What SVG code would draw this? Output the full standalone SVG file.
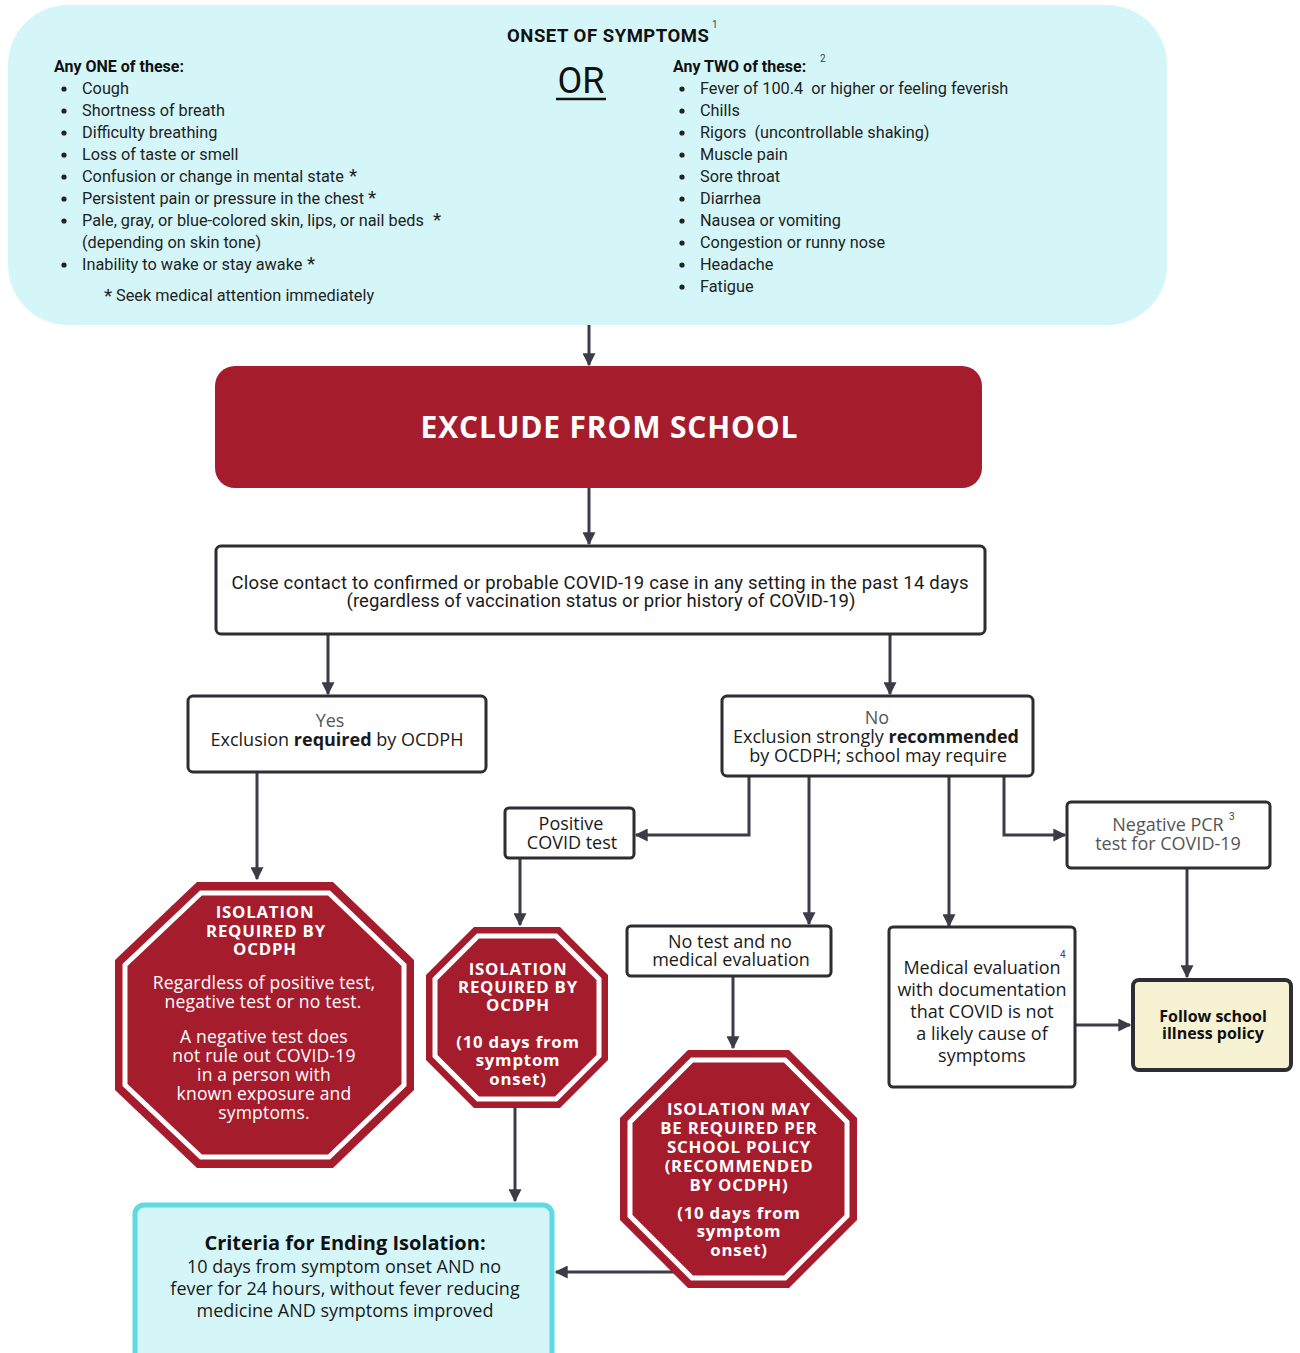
<svg xmlns="http://www.w3.org/2000/svg" width="1300" height="1353" viewBox="0 0 1300 1353">
<defs>
<style>
.top{font-family:Roboto,"Liberation Sans",sans-serif;font-size:16.3px;fill:#222}
.topb{font-family:Roboto,"Liberation Sans",sans-serif;font-size:16px;font-weight:bold;fill:#111}
.ast{font-family:Roboto,"Liberation Sans",sans-serif;font-size:19px;fill:#222}
.sup{font-family:Roboto,"Liberation Sans",sans-serif;font-size:10px;fill:#444}
.dot{fill:#222}
.box{fill:#fff;stroke:#2d2d33;stroke-width:3}
.t{font-family:"Open Sans","Liberation Sans",sans-serif;font-size:18px;fill:#1a1a1a;text-anchor:middle}
.tg{font-family:"Open Sans","Liberation Sans",sans-serif;font-size:18px;fill:#555;text-anchor:middle}
.oct{fill:#a51d2d}
.octin{fill:none;stroke:#fff;stroke-width:5}
.ob{font-family:"Open Sans","Liberation Sans",sans-serif;font-size:16.8px;font-weight:bold;fill:#fff;text-anchor:middle;letter-spacing:0.8px}
.on{font-family:"Open Sans","Liberation Sans",sans-serif;font-size:17.5px;fill:#fff;text-anchor:middle;letter-spacing:0.2px}
.conn{fill:none;stroke:#3c3c48;stroke-width:3;marker-end:url(#arr)}
</style>
<marker id="arr" markerUnits="userSpaceOnUse" viewBox="0 0 10 10" markerWidth="13" markerHeight="13" refX="9" refY="5" orient="auto">
<path d="M0,0 L10,5 L0,10 z" fill="#3c3c48"/>
</marker>
</defs>

<g id="connectors">
<path class="conn" d="M589,325 V365"/>
<path class="conn" d="M589,488 V544"/>
<path class="conn" d="M328,634 V694"/>
<path class="conn" d="M890,634 V694"/>
<path class="conn" d="M257,772 V879"/>
<path class="conn" d="M749,777 V835 H636"/>
<path class="conn" d="M809,777 V924"/>
<path class="conn" d="M949,777 V926"/>
<path class="conn" d="M1004,777 V835 H1065"/>
<path class="conn" d="M520,858 V925"/>
<path class="conn" d="M1187,868 V977"/>
<path class="conn" d="M1075,1025 H1130"/>
<path class="conn" d="M733,976 V1048"/>
<path class="conn" d="M515,1108 V1201"/>
<path class="conn" d="M676,1272 H556"/>
</g>

<g id="onset">
<rect x="8" y="5" width="1159" height="320" rx="60" fill="#d4f6f8"/>
<text x="608" y="42" text-anchor="middle" font-family="Roboto,'Liberation Sans',sans-serif" font-size="18.5" font-weight="bold" fill="#111" textLength="202">ONSET OF SYMPTOMS</text>
<text class="sup" x="712" y="28">1</text>
<text x="581" y="93" text-anchor="middle" font-family="Roboto,'Liberation Sans',sans-serif" font-size="36" fill="#111">OR</text>
<line x1="556" y1="99" x2="606" y2="99" stroke="#111" stroke-width="2.5"/>
<text class="topb" x="54" y="72">Any ONE of these:</text>
<g class="dot">
<circle cx="64" cy="89" r="2.6"/><circle cx="64" cy="111" r="2.6"/><circle cx="64" cy="133" r="2.6"/>
<circle cx="64" cy="155" r="2.6"/><circle cx="64" cy="177" r="2.6"/><circle cx="64" cy="199" r="2.6"/>
<circle cx="64" cy="221" r="2.6"/><circle cx="64" cy="265" r="2.6"/>
<circle cx="682" cy="89" r="2.6"/><circle cx="682" cy="111" r="2.6"/><circle cx="682" cy="133" r="2.6"/>
<circle cx="682" cy="155" r="2.6"/><circle cx="682" cy="177" r="2.6"/><circle cx="682" cy="199" r="2.6"/>
<circle cx="682" cy="221" r="2.6"/><circle cx="682" cy="243" r="2.6"/><circle cx="682" cy="265" r="2.6"/>
<circle cx="682" cy="287" r="2.6"/>
</g>
<g class="top">
<text x="82" y="94">Cough</text>
<text x="82" y="116">Shortness of breath</text>
<text x="82" y="138">Difficulty breathing</text>
<text x="82" y="160">Loss of taste or smell</text>
<text x="82" y="182">Confusion or change in mental state</text>
<text x="82" y="204">Persistent pain or pressure in the chest</text>
<text x="82" y="226">Pale, gray, or blue-colored skin, lips, or nail beds</text>
<text x="82" y="248">(depending on skin tone)</text>
<text x="82" y="270">Inability to wake or stay awake</text>
<text x="116" y="301">Seek medical attention immediately</text>
</g>
<text class="ast" x="349" y="182">*</text>
<text class="ast" x="368" y="204">*</text>
<text class="ast" x="433" y="226">*</text>
<text class="ast" x="307" y="270">*</text>
<text class="ast" x="104" y="302">*</text>
<text class="topb" x="673" y="72">Any TWO of these:</text>
<text class="sup" x="820" y="62">2</text>
<g class="top">
<text x="700" y="94" xml:space="preserve">Fever of 100.4  or higher or feeling feverish</text>
<text x="700" y="116">Chills</text>
<text x="700" y="138" xml:space="preserve">Rigors  (uncontrollable shaking)</text>
<text x="700" y="160">Muscle pain</text>
<text x="700" y="182">Sore throat</text>
<text x="700" y="204">Diarrhea</text>
<text x="700" y="226">Nausea or vomiting</text>
<text x="700" y="248">Congestion or runny nose</text>
<text x="700" y="270">Headache</text>
<text x="700" y="292">Fatigue</text>
</g>
</g>

<g id="exclude">
<rect x="215" y="366" width="767" height="122" rx="20" fill="#a51d2d"/>
<text x="609" y="438" text-anchor="middle" font-family="'Open Sans','Liberation Sans',sans-serif" font-size="30" font-weight="bold" fill="#fff" textLength="377">EXCLUDE FROM SCHOOL</text>
</g>

<g id="close-contact">
<rect class="box" x="216" y="546" width="769" height="88" rx="5"/>
<text x="600" y="589" text-anchor="middle" font-family="Roboto,'Liberation Sans',sans-serif" font-size="18.5" fill="#1a1a1a" textLength="737">Close contact to confirmed or probable COVID-19 case in any setting in the past 14 days</text>
<text x="601" y="607" text-anchor="middle" font-family="Roboto,'Liberation Sans',sans-serif" font-size="18.5" fill="#1a1a1a" textLength="509">(regardless of vaccination status or prior history of COVID-19)</text>
</g>

<g id="yes">
<rect class="box" x="188" y="696" width="298" height="76" rx="5"/>
<text class="tg" x="330" y="727">Yes</text>
<text class="t" x="337" y="746">Exclusion <tspan font-weight="bold">required</tspan> by OCDPH</text>
</g>

<g id="no">
<rect class="box" x="722" y="696" width="311" height="80" rx="5"/>
<text class="tg" x="877" y="724">No</text>
<text class="t" x="876" y="743">Exclusion strongly <tspan font-weight="bold">recommended</tspan></text>
<text class="t" x="878" y="762">by OCDPH; school may require</text>
</g>

<g id="positive">
<rect class="box" x="505" y="808" width="129" height="50" rx="4" stroke-width="2.5"/>
<text class="t" x="571" y="830">Positive</text>
<text class="t" x="572" y="849">COVID test</text>
</g>

<g id="negative-pcr">
<rect class="box" x="1067" y="802" width="203" height="66" rx="4" stroke-width="2.5"/>
<text class="tg" x="1168" y="831">Negative PCR</text>
<text class="sup" x="1229" y="820" font-size="11">3</text>
<text class="tg" x="1168" y="850">test for COVID-19</text>
</g>

<g id="no-test">
<rect class="box" x="627" y="926" width="204" height="50" rx="4" stroke-width="2.5"/>
<text class="t" x="730" y="948">No test and no</text>
<text class="t" x="731" y="966">medical evaluation</text>
</g>

<g id="medical-eval">
<rect class="box" x="889" y="927" width="186" height="160" rx="4" stroke-width="2.5"/>
<text class="sup" x="1060" y="958" font-size="11">4</text>
<text class="t" x="982" y="974">Medical evaluation</text>
<text class="t" x="982" y="996">with documentation</text>
<text class="t" x="982" y="1018">that COVID is not</text>
<text class="t" x="982" y="1040">a likely cause of</text>
<text class="t" x="982" y="1062">symptoms</text>
</g>

<g id="follow-policy">
<rect x="1133" y="980" width="158" height="90" rx="6" fill="#f6f2d2" stroke="#2d2d33" stroke-width="4"/>
<text x="1213" y="1022" text-anchor="middle" font-family="'Open Sans','Liberation Sans',sans-serif" font-size="16" font-weight="bold" fill="#111">Follow school</text>
<text x="1213" y="1039" text-anchor="middle" font-family="'Open Sans','Liberation Sans',sans-serif" font-size="16" font-weight="bold" fill="#111">illness policy</text>
</g>

<g id="isolation-required">
<polygon class="oct" points="197,882 333,882 414,960 414,1090 333,1168 197,1168 115,1090 115,960"/>
<polygon class="octin" points="201,893 329,893 404,965 404,1085 329,1157 201,1157 125,1085 125,965"/>
<text class="ob" x="265" y="918">ISOLATION</text>
<text class="ob" x="266" y="937">REQUIRED BY</text>
<text class="ob" x="265" y="955">OCDPH</text>
<text class="on" x="264" y="989">Regardless of positive test,</text>
<text class="on" x="263" y="1008">negative test or no test.</text>
<text class="on" x="264" y="1043">A negative test does</text>
<text class="on" x="264" y="1062">not rule out COVID-19</text>
<text class="on" x="264" y="1081">in a person with</text>
<text class="on" x="264" y="1100">known exposure and</text>
<text class="on" x="264" y="1119">symptoms.</text>
</g>

<g id="isolation-positive">
<polygon class="oct" points="474,927 560,927 608,975 608,1060 560,1108 474,1108 426,1060 426,975"/>
<polygon class="octin" points="478,936 556,936 599,979 599,1056 556,1099 478,1099 435,1056 435,979"/>
<text class="ob" x="518" y="975">ISOLATION</text>
<text class="ob" x="518" y="993">REQUIRED BY</text>
<text class="ob" x="518" y="1011">OCDPH</text>
<text class="ob" x="518" y="1048">(10 days from</text>
<text class="ob" x="518" y="1066">symptom</text>
<text class="ob" x="518" y="1085">onset)</text>
</g>

<g id="isolation-may">
<polygon class="oct" points="688,1050 789,1050 857,1118 857,1220 789,1288 688,1288 620,1220 620,1118"/>
<polygon class="octin" points="692,1060 785,1060 847,1122 847,1216 785,1278 692,1278 630,1216 630,1122"/>
<text class="ob" x="739" y="1115">ISOLATION MAY</text>
<text class="ob" x="739" y="1134">BE REQUIRED PER</text>
<text class="ob" x="739" y="1153">SCHOOL POLICY</text>
<text class="ob" x="739" y="1172">(RECOMMENDED</text>
<text class="ob" x="739" y="1191">BY OCDPH)</text>
<text class="ob" x="739" y="1219">(10 days from</text>
<text class="ob" x="739" y="1237">symptom</text>
<text class="ob" x="739" y="1256">onset)</text>
</g>

<g id="criteria">
<rect x="135" y="1205" width="417" height="160" rx="9" fill="#d4f6f8" stroke="#5fd9e2" stroke-width="5"/>
<text x="345" y="1250" text-anchor="middle" font-family="'Open Sans','Liberation Sans',sans-serif" font-size="20" font-weight="bold" fill="#111">Criteria for Ending Isolation:</text>
<text class="t" x="344" y="1273" font-size="18.8">10 days from symptom onset AND no</text>
<text class="t" x="345" y="1295" font-size="18.8">fever for 24 hours, without fever reducing</text>
<text class="t" x="345" y="1317" font-size="18.8">medicine AND symptoms improved</text>
</g>
</svg>
